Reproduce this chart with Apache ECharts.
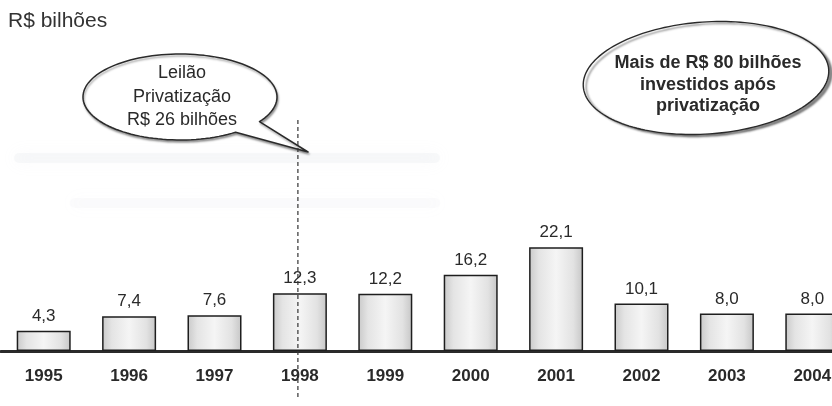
<!DOCTYPE html>
<html>
<head>
<meta charset="utf-8">
<script src="https://cdn.jsdelivr.net/npm/echarts@6/dist/echarts.min.js"></script>
<style>
  html, body { margin: 0; padding: 0; background: #ffffff; }
  #chart { width: 832px; height: 406px; }
</style>
</head>
<body>
<div id="chart"></div>
<script>
// Annual investment after privatization (R$ billions)
const years = ['1995', '1996', '1997', '1998', '1999', '2000', '2001', '2002', '2003', '2004'];
const investment = [4.3, 7.4, 7.6, 12.3, 12.2, 16.2, 22.1, 10.1, 8.0, 8.0];
const auctionYear = '1998';
const unitTitle = 'R$ bilhões';
const auctionNote = ['Leilão', 'Privatização', 'R$ 26 bilhões'];
const totalNote = ['Mais de R$ 80 bilhões', 'investidos após', 'privatização'];

const FONT = '"Liberation Sans", Arial, Helvetica, sans-serif';
const INK = '#2a2a2a';

const chart = echarts.init(document.getElementById('chart'), null, { renderer: 'canvas' });

const barFill = new echarts.graphic.LinearGradient(0, 0, 1, 0, [
  { offset: 0, color: '#c9c9c9' },
  { offset: 0.18, color: '#e4e4e4' },
  { offset: 0.5, color: '#f5f5f5' },
  { offset: 0.82, color: '#e2e2e2' },
  { offset: 1, color: '#c6c6c6' }
]);

chart.setOption({
  animation: false,
  backgroundColor: '#ffffff',
  // the last category runs past the right edge of the page
  grid: { left: 1, width: 854, top: 163, bottom: 55, outerBoundsMode: 'none', containLabel: false },
  xAxis: {
    type: 'category',
    data: years,
    axisTick: { show: false },
    axisLine: { lineStyle: { color: INK, width: 3 } },
    axisLabel: {
      margin: 17,
      fontSize: 17,
      fontWeight: 'bold',
      color: INK,
      fontFamily: FONT
    }
  },
  yAxis: { type: 'value', min: 0, max: 40, show: false },
  series: [{
    type: 'bar',
    data: investment,
    barWidth: 54,
    itemStyle: { color: barFill, borderColor: '#1e1e1e', borderWidth: 1.5 },
    label: {
      show: true,
      position: 'top',
      distance: 6,
      fontSize: 17,
      color: INK,
      fontFamily: FONT,
      formatter: p => p.value.toFixed(1).replace('.', ',')
    }
  }]
});

// Pixel position of the auction year on the category axis
const auctionX = chart.convertToPixel({ xAxisIndex: 0 }, auctionYear) - 2;

// Outline of an (optionally tilted) elliptical arc, from angle a0 to a1 (degrees)
function ellipseArc(cx, cy, rx, ry, a0, a1, steps, tiltDeg) {
  const tilt = (tiltDeg || 0) * Math.PI / 180;
  const ct = Math.cos(tilt), st = Math.sin(tilt);
  const pts = [];
  for (let i = 0; i <= steps; i++) {
    const a = (a0 + (a1 - a0) * i / steps) * Math.PI / 180;
    const ex = rx * Math.cos(a), ey = ry * Math.sin(a);
    pts.push([cx + ex * ct - ey * st, cy + ex * st + ey * ct]);
  }
  return pts;
}

function textLines(lines, cx, ys, size, weight) {
  return lines.map((t, i) => ({
    type: 'text',
    z: 20,
    style: {
      text: t, x: cx, y: ys[i],
      align: 'center', verticalAlign: 'middle',
      font: weight + ' ' + size + 'px ' + FONT,
      fill: INK
    }
  }));
}

// speech bubble: ellipse opened on the lower right, with a pointer
const bubblePts = ellipseArc(180, 97, 97, 43, 35, 55 - 360, 120).concat([[308, 152]]);
const ovalPts = ellipseArc(706, 78, 123, 56, 0, 360, 160, -4);

chart.setOption({
  graphic: [
    // faint smudges across the middle of the page
    {
      type: 'rect', z: 1, silent: true,
      shape: { x: 14, y: 153, width: 426, height: 10, r: 5 },
      style: { fill: 'rgba(210,213,222,0.15)', shadowBlur: 16, shadowColor: 'rgba(205,208,218,0.55)' }
    },
    {
      type: 'rect', z: 1, silent: true,
      shape: { x: 70, y: 198, width: 370, height: 10, r: 5 },
      style: { fill: 'rgba(220,220,225,0.1)', shadowBlur: 16, shadowColor: 'rgba(215,215,222,0.4)' }
    },
    {
      type: 'text', z: 20,
      style: {
        text: unitTitle, x: 8, y: 21,
        align: 'left', verticalAlign: 'middle',
        font: '21px ' + FONT, fill: '#333'
      }
    },
    // dashed marker through the auction year
    {
      type: 'line', z: 30,
      shape: { x1: auctionX, y1: 120, x2: auctionX, y2: 398 },
      style: { stroke: '#333', lineWidth: 1.2, lineDash: [4, 3] }
    },
    {
      type: 'polygon', z: 15,
      shape: { points: bubblePts },
      style: {
        fill: '#ffffff', stroke: '#2a2a2a', lineWidth: 1.5, lineJoin: 'round',
        shadowColor: 'rgba(0,0,0,0.35)', shadowBlur: 2, shadowOffsetX: 1, shadowOffsetY: 2
      }
    },
    // oval note for total investment
    {
      type: 'polygon', z: 15,
      shape: { points: ovalPts },
      style: {
        fill: '#ffffff', stroke: '#2a2a2a', lineWidth: 1.4,
        shadowColor: 'rgba(0,0,0,0.45)', shadowBlur: 2, shadowOffsetX: 3, shadowOffsetY: 2
      }
    },
    ...textLines(auctionNote, 182, [73, 97, 120], 18, 'normal'),
    ...textLines(totalNote, 708, [63, 85, 106], 18, 'bold')
  ]
});
</script>
</body>
</html>
